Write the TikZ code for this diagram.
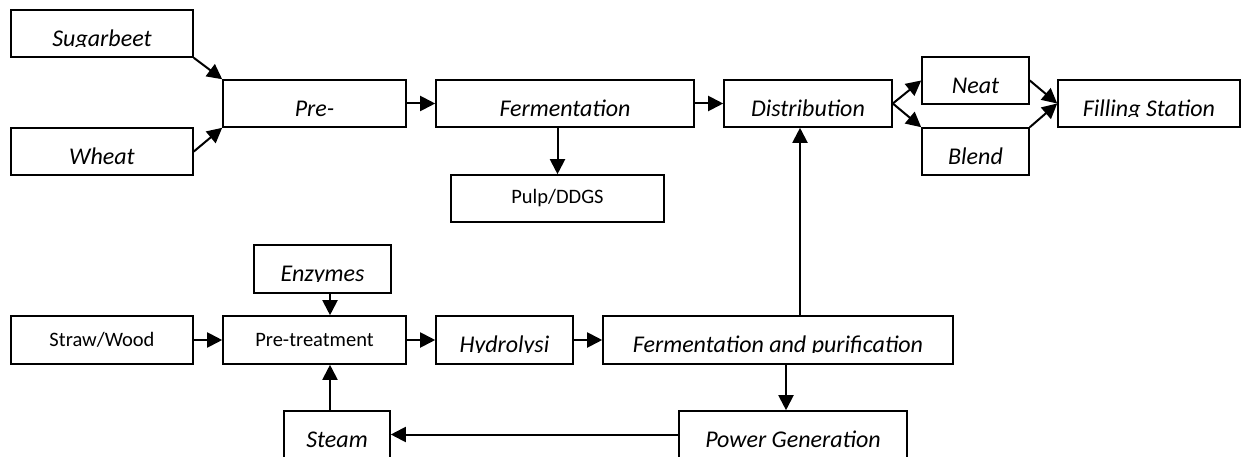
\documentclass[tikz,border=0pt]{standalone}
\usepackage{fontspec}
\setmainfont{Carlito}
\usetikzlibrary{arrows.meta,calc}
\tikzset{
  box/.style={draw,line width=1.6pt,inner sep=0pt,fill=white},
  arr/.style={line width=2pt,-{Triangle[length=15pt,width=15pt]}},
  hw/.style={font=\itshape\fontsize{24}{26}\selectfont,inner sep=0pt},
  cal/.style={font=\fontsize{20.5}{24}\selectfont}
}
% \mkbox[text]{name}{x1}{y1}{x2}{y2}
\newcommand{\mkbox}[6][]{\node[box,cal,minimum width={(#5-#3)*1pt},minimum height={(#6-#4)*1pt}] (#2) at ({(#3+#5)/2},{(#4+#6)/2}) {#1};}
% handwritten label clipped at its baseline
\newcommand{\hwlabel}[2]{%
  \begin{scope}
    \clip ($(#1.north west)+(1,1)$) rectangle ($(#1.north east)+(-1,37.5)$);
    \node[hw,anchor=base] (#1-lbl) at ($(#1.north)+(0,37)$) {#2};
  \end{scope}}
\begin{document}
\begin{tikzpicture}[x=1pt,y=-1pt]
\clip (0,0) rectangle (1241,457);
\fill[white] (0,0) rectangle (1241,457);
% boxes
\mkbox{sugar}{11}{10}{193}{57}
\mkbox{wheat}{11}{128}{193}{175}
\mkbox{pre}{223}{80}{406}{127}
\mkbox{ferm}{436}{80}{694}{127}
\mkbox[Pulp/DDGS]{pulp}{451}{175}{664}{222}
\mkbox{dist}{724}{80}{892}{127}
\mkbox{neat}{922}{57}{1029}{104}
\mkbox{blend}{922}{128}{1029}{175}
\mkbox{fill}{1058}{80}{1240}{127}
\mkbox{enz}{254}{245}{391}{293}
\mkbox[Straw/Wood]{straw}{11}{316}{193}{364}
\mkbox[Pre-treatment]{pretr}{223}{316}{406}{364}
\mkbox{hyd}{436}{316}{573}{364}
\mkbox{fp}{603}{316}{953}{364}
\mkbox{steam}{284}{411}{390}{458}
\mkbox{power}{679}{411}{907}{458}
% labels
\hwlabel{sugar}{Sugarbeet}
\hwlabel{wheat}{Wheat}
\hwlabel{pre}{Pre-}
\hwlabel{ferm}{Fermentation}
\hwlabel{dist}{Distribution}
\hwlabel{neat}{Neat}
\hwlabel{blend}{Blend}
\hwlabel{fill}{Filling Station}
\hwlabel{enz}{Enzymes}
\hwlabel{hyd}{Hydrolysi}
\hwlabel{fp}{Fermentation and purification}
\hwlabel{steam}{Steam}
\hwlabel{power}{Power Generation}
% helper coordinates
\coordinate (x330) at (330,0);
\coordinate (x786) at (786,0);
\coordinate (x800) at (800,0);
% connectors
\draw[arr] (sugar.south east) -- (pre.north west);
\draw[arr] (wheat.east) -- (pre.south west);
\draw[arr] (pre.east) -- (ferm.west);
\draw[arr] (ferm.east) -- (dist.west);
\draw[arr] (pulp.north |- ferm.south) -- (pulp.north);
\draw[arr] (dist.east) -- (neat.west);
\draw[arr] (dist.east) -- (blend.north west);
\draw[arr] (neat.east) -- (fill.west);
\draw[arr] (blend.north east) -- (fill.west);
\draw[arr] (x330 |- enz.south) -- (x330 |- pretr.north);
\draw[arr] (straw.east) -- (pretr.west);
\draw[arr] (pretr.east) -- (hyd.west);
\draw[arr] (hyd.east) -- (fp.west);
\draw[arr] (x330 |- steam.north) -- (x330 |- pretr.south);
\draw[arr] (power.west) -- (steam.east);
\draw[arr] (x786 |- fp.south) -- (x786 |- power.north);
\draw[arr] (x800 |- fp.north) -- (x800 |- dist.south);
\end{tikzpicture}
\end{document}
